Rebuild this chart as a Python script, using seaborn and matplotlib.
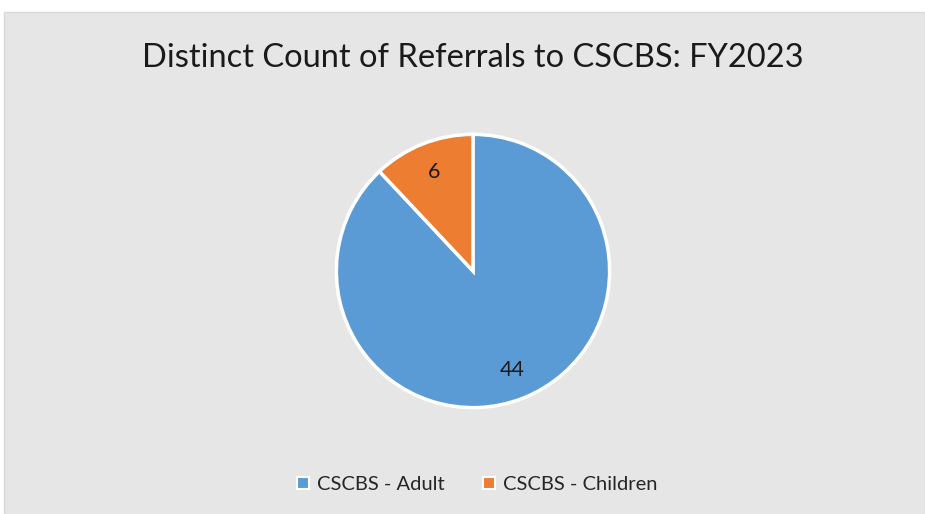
import matplotlib.pyplot as plt
import seaborn as sns
from matplotlib.patches import Rectangle
from matplotlib.lines import Line2D

categories = ["CSCBS - Adult", "CSCBS - Children"]
counts = [44, 6]
colors = ["#5b9bd5", "#ed7d31"]
title = "Distinct Count of Referrals to CSCBS: FY2023"

sns.set_theme(style="white")
plt.rcParams['font.family'] = ['Lato', 'DejaVu Sans']

W, H = 925, 514
fig = plt.figure(figsize=(W / 100, H / 100), dpi=100, facecolor="white")

# grey chart panel
fig.patches.append(Rectangle((4 / W, 0), (W - 4) / W, (H - 12) / H, transform=fig.transFigure,
                             facecolor="#e7e6e6", edgecolor="#d9d9d9", lw=1, zorder=-5))

cx, cy, r = 473, 271, 138
ax = fig.add_axes([(cx - r) / W, (H - cy - r) / H, 2 * r / W, 2 * r / H])
ax.set_zorder(2)
wedges, _, autotexts = ax.pie(counts, colors=colors, startangle=90, counterclock=False,
                              autopct=lambda p: f"{round(p * sum(counts) / 100)}",
                              pctdistance=0.78, radius=1,
                              wedgeprops=dict(edgecolor="white", linewidth=2.5),
                              textprops=dict(fontsize=15.5, color="#1a1a1a"))
ax.set_xlim(-1.01, 1.01)
ax.set_ylim(-1.01, 1.01)
ax.set_aspect("equal")
ax.axis("off")

fig.text(473 / W, 1 - 58 / H, title, ha="center", va="center", fontsize=23.5, color="#1a1a1a")

handles = [Line2D([], [], ls="", marker="s", markersize=9, markerfacecolor=c,
                  markeredgecolor="white", markeredgewidth=1.5) for c in colors]
fig.legend(handles, categories, loc="center", bbox_to_anchor=(476 / W, 1 - 484 / H),
           ncol=2, frameon=False, fontsize=14.5, handlelength=0.8,
           handletextpad=0.3, columnspacing=1.8)

fig.savefig("out.png", dpi=100, facecolor="white")
